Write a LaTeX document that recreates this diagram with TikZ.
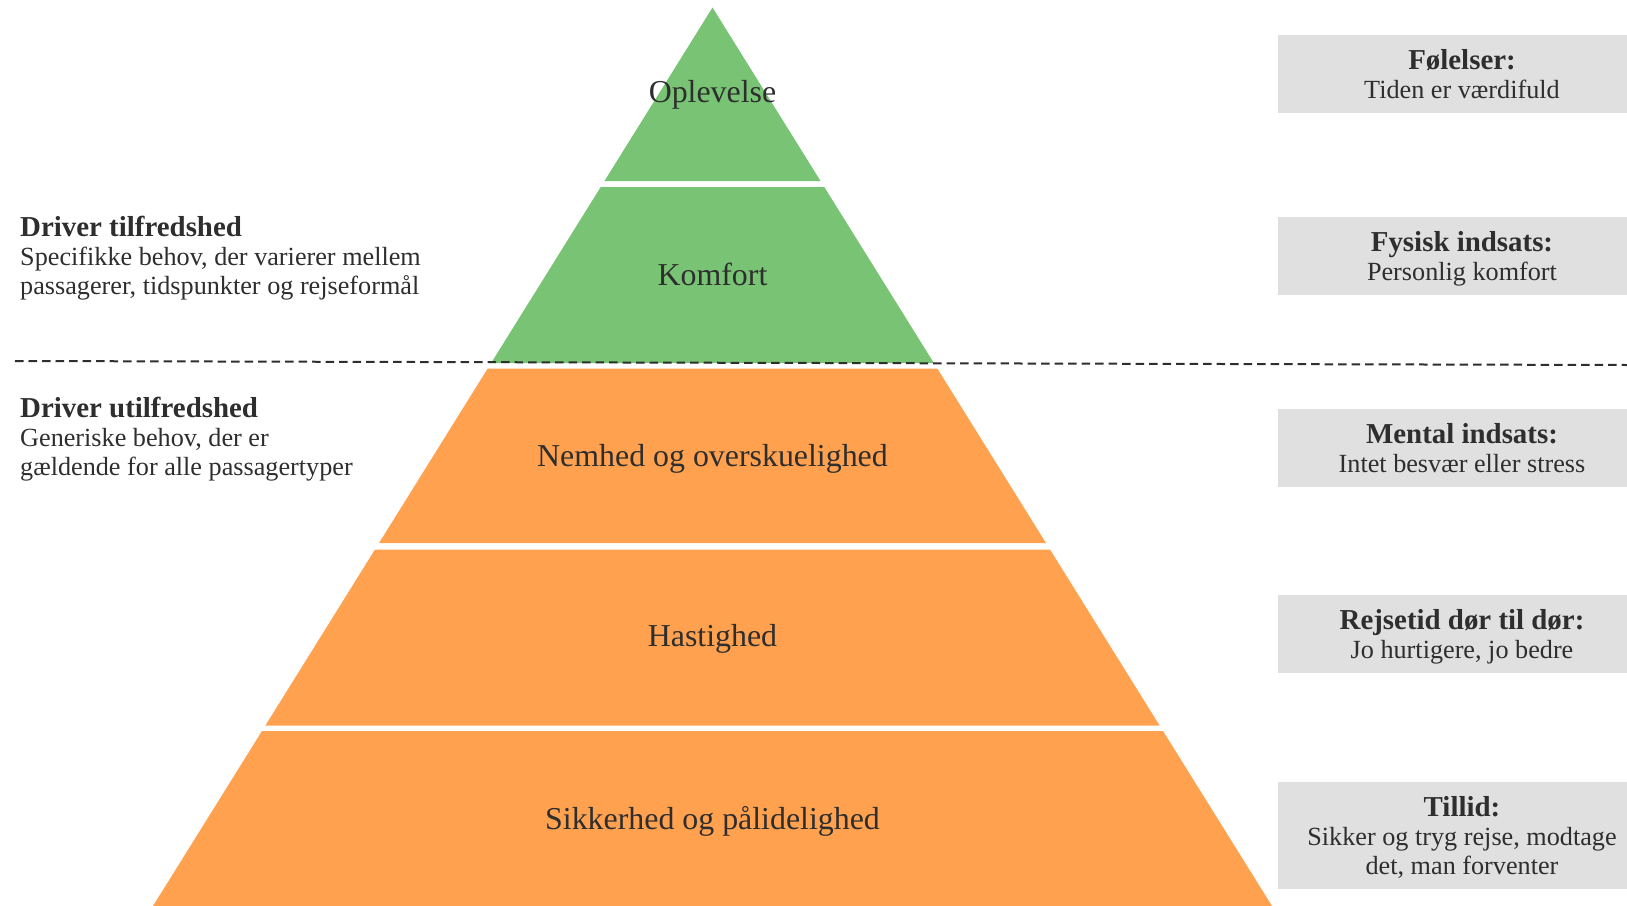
\documentclass[tikz,border=0pt]{standalone}
\usepackage{fontspec}
\setmainfont{Liberation Serif}
\usepackage{tikz}
\definecolor{pyrgreen}{HTML}{79C474}
\definecolor{pyrorange}{HTML}{FFA14F}
\definecolor{boxgray}{HTML}{E0E0E0}
\definecolor{inkgray}{HTML}{2E2E2E}
\newcommand{\boxtitle}[1]{{\fontsize{29}{29}\selectfont\bfseries #1}}
\newcommand{\nodepth}[1]{\raisebox{0pt}[\height][0pt]{#1}}

\begin{document}
\begin{tikzpicture}[x=1bp, y=-1bp,
    tierlabel/.style={anchor=base, inner sep=0, text=inkgray, font=\fontsize{32}{36}\selectfont},
    infobox/.style={fill=boxgray, minimum width=368bp, minimum height=77.7bp, inner sep=0,
      align=center, text=inkgray, font=\fontsize{26.3}{29}\selectfont},
    sidenote/.style={anchor=north west, inner sep=0, align=left, text=inkgray,
      font=\fontsize{26.3}{29}\selectfont},
    divider/.style={draw=inkgray, line width=2bp, dash pattern=on 8.7bp off 4.8bp}]
  \useasboundingbox (0,0) rectangle (1627,905);
  % pyramid tiers
  \foreach \top/\bot/\col in {7.5/181/pyrgreen, 187/363/pyrgreen, 368.5/543/pyrorange,
      549.5/725.7/pyrorange, 731/912/pyrorange}
    \fill[\col] ({712.5-0.6227*(\top-7.5)},\top) -- ({712.5+0.6227*(\top-7.5)},\top)
      -- ({712.5+0.6227*(\bot-7.5)},\bot) -- ({712.5-0.6227*(\bot-7.5)},\bot) -- cycle;
  % tier labels
  \node[tierlabel] (opl) at (712.5,102.5) {Oplevelse};
  \node[tierlabel] (komf) at (712.5,285.3) {Komfort};
  \node[tierlabel] (nemhed) at (712.5,466) {Nemhed og overskuelighed};
  \node[tierlabel] (hast) at (712.5,646.7) {Hastighed};
  \node[tierlabel] (sikker) at (712.5,829) {Sikkerhed og pålidelighed};
  % line between the two drivers
  \coordinate (cutL) at (15,361);
  \coordinate (cutR) at (1627,365);
  \draw[divider] (cutL) -- (cutR);
  % left notes
  \node[sidenote] (tilfreds) at (20,216.2)
    {\boxtitle{Driver tilfredshed}\\ Specifikke behov, der varierer mellem\\ passagerer, tidspunkter og rejseformål};
  \node[sidenote] (utilfreds) at (20,397.2)
    {\boxtitle{Driver utilfredshed}\\ Generiske behov, der er\\ gældende for alle passagertyper};
  % right boxes
  \node[infobox] (foel) at (1462,73.9) {\boxtitle{Følelser:}\\ \nodepth{Tiden er værdifuld}};
  \node[infobox] (fysisk) at (1462,255.9) {\boxtitle{Fysisk indsats:}\\ \nodepth{Personlig komfort}};
  \node[infobox] (mental) at (1462,447.8) {\boxtitle{Mental indsats:}\\ \nodepth{Intet besvær eller stress}};
  \node[infobox] (rejsetid) at (1462,633.9) {\boxtitle{Rejsetid dør til dør:}\\ \nodepth{Jo hurtigere, jo bedre}};
  \node[infobox, minimum height=107.3bp] (tillid) at (1462,835.3)
    {\boxtitle{Tillid:}\\ Sikker og tryg rejse, modtage\\ \nodepth{det, man forventer}};
\end{tikzpicture}
\end{document}
